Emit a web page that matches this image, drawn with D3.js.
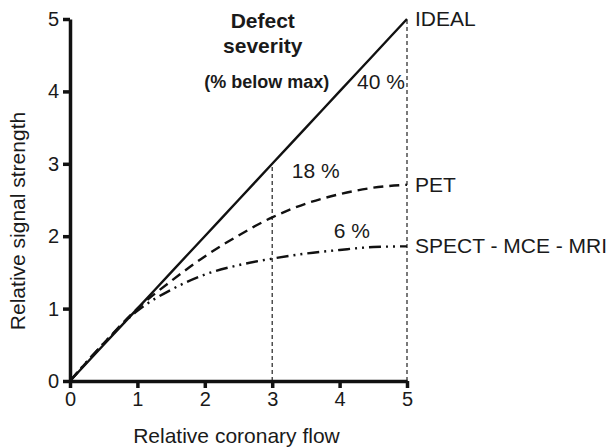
<!DOCTYPE html>
<html>
<head>
<meta charset="utf-8">
<script src="https://cdn.jsdelivr.net/npm/d3@7"></script>
<style>
  body { margin: 0; background: #fff; }
  text { font-family: "Liberation Sans", Arial, sans-serif; fill: #1a1a1a; }
</style>
</head>
<body>
<script>
// data
var flow  = [0, 0.5, 1, 1.5, 2, 2.5, 3, 3.5, 4, 4.5, 5];
var ideal = [0, 0.5, 1, 1.5, 2, 2.5, 3, 3.5, 4, 4.5, 5];
var pet   = [0, 0.52, 1.0, 1.38, 1.72, 2.01, 2.26, 2.45, 2.58, 2.67, 2.71];
var spect = [0, 0.52, 0.97, 1.26, 1.47, 1.60, 1.69, 1.76, 1.81, 1.85, 1.86];
var xTicks = [0, 1, 2, 3, 4, 5];
var yTicks = [0, 1, 2, 3, 4, 5];
var markers = [3, 5];   // vertical guide lines at these flows
var severity = [{name: "IDEAL", pct: "40 %"}, {name: "PET", pct: "18 %"}, {name: "SPECT - MCE - MRI", pct: "6 %"}];

var margin = {top: 19, right: 204, bottom: 66, left: 70},
    width = 611 - margin.left - margin.right,
    height = 447 - margin.top - margin.bottom;

var x = d3.scaleLinear().domain([0, 5]).range([0, width]);
var y = d3.scaleLinear().domain([0, 5]).range([height, 0]);

var svg = d3.select("body").append("svg")
    .attr("width", 611)
    .attr("height", 447)
  .append("g")
    .attr("transform", "translate(" + margin.left + "," + margin.top + ")");

// guide lines
svg.selectAll(".guide")
    .data(markers)
  .enter().append("line")
    .attr("class", "guide")
    .attr("x1", function(d) { return x(d); })
    .attr("x2", function(d) { return x(d); })
    .attr("y1", y(0))
    .attr("y2", function(d) { return y(d); })
    .style("stroke", "#222")
    .style("stroke-width", 1.2)
    .style("stroke-dasharray", "4,3");

var line = d3.line()
    .x(function(d) { return x(d[0]); })
    .y(function(d) { return y(d[1]); })
    .curve(d3.curveMonotoneX);

var series = [
  {vals: ideal, dash: null},
  {vals: pet, dash: "10,6"},
  {vals: spect, dash: "12,5,2,5,2,5"}
];

svg.selectAll(".curve")
    .data(series)
  .enter().append("path")
    .attr("class", "curve")
    .attr("d", function(s) { return line(flow.map(function(f, i) { return [f, s.vals[i]]; })); })
    .style("fill", "none")
    .style("stroke", "#111")
    .style("stroke-width", 2.4)
    .style("stroke-dasharray", function(s) { return s.dash; });

// axes
var xAxis = svg.append("g")
    .attr("transform", "translate(0," + height + ")")
    .call(d3.axisBottom(x).tickValues(xTicks).tickFormat(d3.format("d")).tickSize(7).tickSizeOuter(0).tickPadding(4));

var yAxis = svg.append("g")
    .call(d3.axisLeft(y).tickValues(yTicks).tickFormat(d3.format("d")).tickSize(7).tickSizeOuter(0).tickPadding(4));

[xAxis, yAxis].forEach(function(a) {
  a.select(".domain").style("stroke", "#111").style("stroke-width", 3.5);
  a.selectAll(".tick line").style("stroke", "#111").style("stroke-width", 3.5);
  a.selectAll(".tick text").style("font-size", "20px").style("font-family", "Liberation Sans, Arial, sans-serif").style("fill", "#1a1a1a");
});

// axis titles
svg.append("text")
    .attr("x", x(2.47))
    .attr("y", height + 62)
    .style("text-anchor", "middle")
    .style("font-size", "21px")
    .text("Relative coronary flow");

svg.append("text")
    .attr("transform", "rotate(-90)")
    .attr("x", -(202))
    .attr("y", -45)
    .style("text-anchor", "middle")
    .style("font-size", "21px")
    .text("Relative signal strength");

// curve names at the right end
var endVals = [ideal[10], pet[10], spect[10]];
svg.selectAll(".name")
    .data(severity)
  .enter().append("text")
    .attr("class", "name")
    .attr("x", x(5) + 8)
    .attr("y", function(d, i) { return y(endVals[i]) + 7; })
    .style("font-size", "21px")
    .text(function(d) { return d.name; });

// percentages
var pctPos = [[4.97, 4.04], [4.0, 2.81], [4.45, 1.98]];
svg.selectAll(".pct")
    .data(severity)
  .enter().append("text")
    .attr("class", "pct")
    .attr("x", function(d, i) { return x(pctPos[i][0]); })
    .attr("y", function(d, i) { return y(pctPos[i][1]); })
    .style("text-anchor", "end")
    .style("font-size", "21px")
    .text(function(d) { return d.pct; });

// heading
svg.append("text")
    .attr("x", x(2.86))
    .attr("y", 9)
    .style("text-anchor", "middle")
    .style("font-size", "21px")
    .style("font-weight", "bold")
    .text("Defect");
svg.append("text")
    .attr("x", x(2.86))
    .attr("y", 34)
    .style("text-anchor", "middle")
    .style("font-size", "21px")
    .style("font-weight", "bold")
    .text("severity");
svg.append("text")
    .attr("x", x(2.92))
    .attr("y", 69)
    .style("text-anchor", "middle")
    .style("font-size", "18px")
    .style("font-weight", "bold")
    .text("(% below max)");
</script>
</body>
</html>
